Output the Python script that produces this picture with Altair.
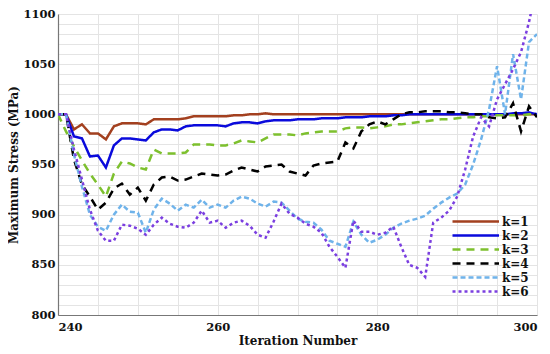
import altair as alt
import pandas as pd

iterations = list(range(240, 301))

k1 = [1000, 1000, 985, 990, 981, 981, 975, 988, 991, 991,
      991, 990, 995, 995, 995, 995, 996, 998, 998, 998,
      998, 998, 999, 999, 1000, 1000, 1001, 1000, 1000, 1000,
      1000, 1000, 1000, 1000, 1000, 1000, 1000, 1000, 1000, 1000,
      1000, 1000, 1000, 1000, 1000, 1000, 1000, 1000, 1000, 1000,
      1000, 1000, 1000, 1000, 1000, 1000, 1000, 1000, 1000, 1000, 1000]
k2 = [1000, 1000, 978, 976, 958, 959, 947, 969, 976, 976,
      975, 974, 982, 985, 985, 984, 988, 989, 989, 989,
      989, 988, 991, 992, 992, 991, 993, 994, 994, 994,
      995, 995, 995, 996, 996, 996, 997, 997, 997, 998,
      998, 998, 999, 999, 1000, 1000, 1000, 1000, 1000, 1000,
      1000, 1000, 1000, 1000, 1000, 1000, 1000, 1001, 1001, 1002, 1000]
k3 = [1000, 983, 968, 954, 941, 930, 918, 941, 953, 951,
      947, 945, 965, 961, 961, 961, 962, 970, 970, 970,
      969, 969, 971, 974, 973, 972, 976, 980, 980, 980,
      979, 981, 982, 983, 983, 983, 986, 987, 987, 986,
      987, 988, 990, 990, 991, 992, 993, 994, 995, 995,
      996, 997, 997, 998, 998, 999, 999, 999, 999, 1000, 1000]
k4 = [1000, 1000, 955, 930, 918, 905, 912, 926, 931, 920,
      927, 914, 930, 937, 938, 934, 935, 938, 941, 940,
      939, 940, 944, 947, 945, 943, 948, 949, 950, 943,
      941, 939, 949, 951, 952, 953, 972, 966, 983, 990,
      993, 990, 995, 1000, 1002, 1002, 1003, 1003, 1003, 1002,
      1002, 1001, 1000, 1000, 997, 996, 997, 1011, 983, 1008, 997]
k5 = [1000, 1000, 960, 928, 900, 888, 884, 900, 910, 903,
      902, 882, 905, 916, 911, 904, 910, 907, 915, 907,
      910, 907, 914, 918, 916, 911, 908, 913, 912, 904,
      896, 893, 892, 885, 874, 871, 868, 893, 880, 872,
      875, 880, 887, 891, 894, 896, 899, 906, 912, 917,
      921, 930, 950, 975, 1005, 1048, 1000, 1060, 1015, 1072, 1080]
k6 = [1000, 1000, 965, 935, 905, 884, 874, 874, 890, 889,
      886, 880, 890, 897, 891, 888, 887, 892, 904, 892,
      894, 887, 892, 894, 889, 880, 877, 893, 911, 901,
      897, 891, 888, 882, 868, 858, 847, 894, 883, 883,
      880, 882, 888, 868, 850, 847, 838, 892, 897, 904,
      918, 945, 978, 997, 988, 1015, 1030, 1045, 1062, 1092, 1130]

series_names = ["k=1", "k=2", "k=3", "k=4", "k=5", "k=6"]
series_values = [k1, k2, k3, k4, k5, k6]
colors = ["#A3401F", "#0A0ADC", "#7DC02E", "#000000", "#6FB3EA", "#7B3FE0"]
dashes = [[1, 0], [1, 0], [8, 6], [8, 6], [5, 3], [3, 3]]
widths = [2.5, 2.5, 2, 2, 1.6, 3]

rows = []
for name, vals in zip(series_names, series_values):
    for it, v in zip(iterations, vals):
        rows.append({"Iteration": it, "Stress": v, "k": name})
df = pd.DataFrame(rows)

font = "DejaVu Serif"

x_ticks = list(range(240, 301, 5))
y_ticks = list(range(800, 1101, 10))

chart = alt.Chart(df).mark_line(clip=True, strokeCap="butt").encode(
    x=alt.X("Iteration:Q",
            scale=alt.Scale(domain=[240, 300], nice=False),
            axis=alt.Axis(title="Iteration Number", values=x_ticks, format="d",
                          labelExpr="datum.value % 20 == 0 ? datum.label : ''",
                          ticks=False, labelPadding=6, titlePadding=3)),
    y=alt.Y("Stress:Q",
            scale=alt.Scale(domain=[800, 1100], nice=False),
            axis=alt.Axis(title="Maximum Stress (MPa)", values=y_ticks, format="d",
                          labelExpr="datum.value % 50 == 0 ? datum.label : ''",
                          ticks=False, labelPadding=3, titlePadding=2)),
    color=alt.Color("k:N", scale=alt.Scale(domain=series_names, range=colors),
                    legend=alt.Legend(title=None, orient="none", legendX=421, legendY=198,
                                      symbolType="M-6,0H1.75", symbolSize=144,
                                      labelFont=font, labelFontWeight="bold", labelFontSize=12,
                                      labelColor="#111", padding=2,
                                      rowPadding=-1, labelOffset=6)),
    strokeDash=alt.StrokeDash("k:N", scale=alt.Scale(domain=series_names, range=dashes), legend=alt.Legend(title=None)),
    strokeWidth=alt.StrokeWidth("k:N", scale=alt.Scale(domain=series_names, range=widths), legend=alt.Legend(title=None)),
    order=alt.Order("Iteration:Q"),
).properties(
    width=479, height=301,
    autosize=alt.AutoSizeParams(type="none"),
    padding={"left": 50, "top": 6, "right": 5, "bottom": 37},
).configure_axis(
    labelFont=font, labelFontWeight="bold", labelFontSize=11.5, labelColor="#111",
    titleFont=font, titleFontWeight="bold", titleFontSize=12, titleColor="#111",
    gridColor="#e4e4e4", gridWidth=1, domainColor="#777", domainWidth=1.2,
).configure_view(stroke=None)

chart.save("out.html", embed_options={"renderer": "svg", "actions": False})
